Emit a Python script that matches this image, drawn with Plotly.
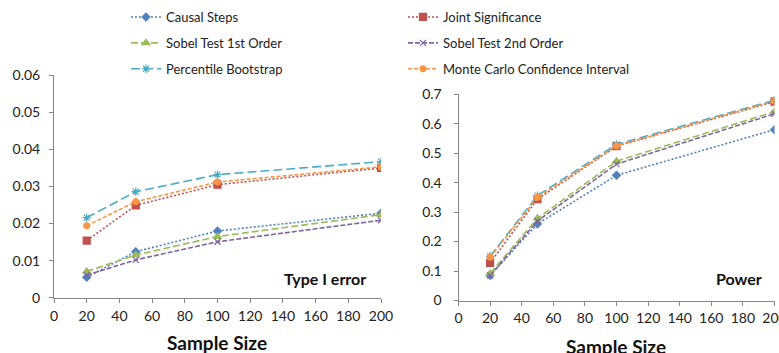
import plotly.graph_objects as go

sample_sizes = [20, 50, 100, 200]

methods = ["Causal Steps", "Joint Significance", "Sobel Test 1st Order",
           "Sobel Test 2nd Order", "Percentile Bootstrap", "Monte Carlo Confidence Interval"]

type1_causal = [0.0055, 0.0124, 0.0180, 0.0228]
type1_joint = [0.0154, 0.0249, 0.0305, 0.0350]
type1_sobel1 = [0.0071, 0.0115, 0.0165, 0.0224]
type1_sobel2 = [0.0061, 0.0102, 0.0151, 0.0209]
type1_boot = [0.0216, 0.0286, 0.0332, 0.0367]
type1_mc = [0.0194, 0.0259, 0.0312, 0.0353]

power_causal = [0.085, 0.260, 0.425, 0.580]
power_joint = [0.128, 0.344, 0.524, 0.675]
power_sobel1 = [0.092, 0.279, 0.473, 0.641]
power_sobel2 = [0.085, 0.270, 0.463, 0.634]
power_boot = [0.150, 0.356, 0.530, 0.680]
power_mc = [0.147, 0.350, 0.525, 0.677]

type1 = [type1_causal, type1_joint, type1_sobel1, type1_sobel2, type1_boot, type1_mc]
power = [power_causal, power_joint, power_sobel1, power_sobel2, power_boot, power_mc]

colors = ["#4F81BD", "#C0504D", "#9BBB59", "#8064A2", "#4BACC6", "#F79646"]
dashes = ["2px,2px", "2px,2px", "7px,3px", "5px,2px", "9px,4px", "4px,2px"]
symbols = ["diamond", "square", "triangle-up", "x-thin-open", "asterisk-open", "circle"]
msizes = [6, 7, 7, 6, 7, 6]
legend_ids = ["legend", "legend2", "legend", "legend2", "legend", "legend2"]

FONT = "Lato"
fig = go.Figure()

for i, name in enumerate(methods):
    for data, xa, ya, show in [(type1[i], "x", "y", True), (power[i], "x2", "y2", False)]:
        fig.add_trace(go.Scatter(
            x=sample_sizes, y=data, name=name, mode="lines+markers",
            xaxis=xa, yaxis=ya, showlegend=show, legend=legend_ids[i],
            legendgroup=name,
            line=dict(color=colors[i], width=1.6, dash=dashes[i]),
            marker=dict(symbol=symbols[i], size=msizes[i], color=colors[i],
                        line=dict(color=colors[i], width=1.2)),
        ))

W, H = 779, 353
def px(x):
    return x / W
def py(y):
    return 1 - y / H

axis_common = dict(showgrid=False, zeroline=False, showline=True, linecolor="#868686",
                   linewidth=1, ticks="outside", ticklen=4, tickcolor="#868686",
                   automargin=False, ticklabeloverflow="allow",
                   tickfont=dict(family=FONT, size=14, color="#222222"))

def note(text, x, y, size):
    return dict(text=text, x=px(x), y=py(y), xref="paper", yref="paper",
                xanchor="center", yanchor="middle", showarrow=False,
                font=dict(family=FONT, size=size, color="#111111"))

fig.update_layout(
    template="none",
    width=W, height=H, margin=dict(l=0, r=0, t=0, b=0, autoexpand=False),
    paper_bgcolor="white", plot_bgcolor="white",
    font=dict(family=FONT, color="#222222"),
    xaxis=dict(domain=[px(54), px(381)], range=[0, 200], dtick=20, anchor="y",
               ticklabelstandoff=1, **axis_common),
    yaxis=dict(domain=[py(297.7), py(75.3)], range=[0, 0.06], dtick=0.01, anchor="x",
               ticklabelstandoff=6, **axis_common),
    xaxis2=dict(domain=[px(458.5), px(774.5)], range=[0, 200], dtick=20, anchor="y2",
                ticklabelstandoff=1, **axis_common),
    yaxis2=dict(domain=[py(300.5), py(94.3)], range=[0, 0.7], dtick=0.1, anchor="x2",
                ticklabelstandoff=9, **axis_common),
    legend=dict(x=px(126), y=py(2), xanchor="left", yanchor="top", orientation="v",
                font=dict(family=FONT, size=13, color="#222222"), tracegroupgap=6,
                bgcolor="rgba(0,0,0,0)"),
    legend2=dict(x=px(403), y=py(2), xanchor="left", yanchor="top", orientation="v",
                 font=dict(family=FONT, size=13, color="#222222"), tracegroupgap=6,
                 bgcolor="rgba(0,0,0,0)"),
    annotations=[
        note("<b>Sample Size</b>", 217, 342, 19),
        note("<b>Sample Size</b>", 616, 346, 19),
        note("<b>Type I error</b>", 325, 278, 16),
        note("<b>Power</b>", 739, 278, 16),
    ],
)

fig.write_html("out.html", config={"displayModeBar": False},
               post_script="document.body.style.margin='0';document.body.style.overflow='hidden';")
